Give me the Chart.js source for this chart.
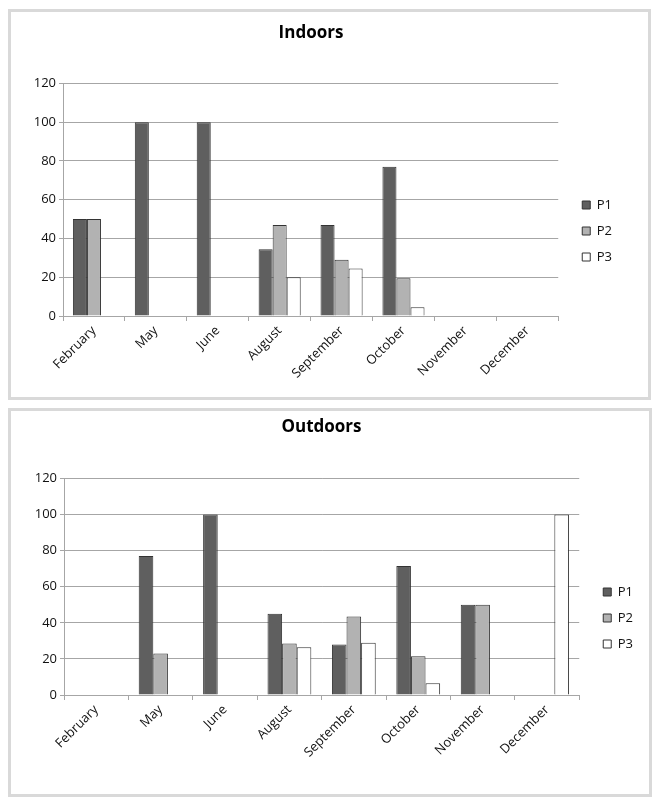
<!DOCTYPE html>
<html>
<head>
<meta charset="utf-8">
<script src="https://cdn.jsdelivr.net/npm/chart.js@4.4.0/dist/chart.umd.min.js"></script>
<style>
body{margin:0;background:#fff;width:661px;height:808px;position:relative;overflow:hidden}
.panel{position:absolute;border:3px solid #d9d9d9;box-sizing:border-box;background:#fff}
canvas{display:block}
</style>
</head>
<body>
<div class="panel" style="left:8px;top:9px;width:643px;height:391px"><canvas id="indoors" width="637" height="385"></canvas></div>
<div class="panel" style="left:8px;top:408px;width:644px;height:389px"><canvas id="outdoors" width="638" height="383"></canvas></div>
<script>
// ===== DATA =====
const months = ["February","May","June","August","September","October","November","December"];
const seriesNames = ["P1","P2","P3"];
const yTicks = [0,20,40,60,80,100,120];

const indoorsP1 = [50,100,100,34.5,47,77,null,null];
const indoorsP2 = [50,null,null,47,29,19.5,null,null];
const indoorsP3 = [null,null,null,20,24.5,4.5,null,null];

const outdoorsP1 = [null,77,100,45,28,71.5,50,null];
const outdoorsP2 = [null,23,null,28.5,43.5,21.5,50,null];
const outdoorsP3 = [null,null,null,26.5,29,6.5,null,100];

// ===== STYLE =====
const FONT = "'Open Sans', sans-serif";
const fills = ["#5f5f5f","#b2b2b2","#ffffff"];
const gridColor = "#a6a6a6";

// move legend next to plot, centered where excel puts it
const legendSpot = {
  id: "legendSpot",
  afterLayout(chart, args, opts){
    const lg = chart.legend;
    if(!lg) return;
    const dx = chart.chartArea.right + opts.gap - lg.left;
    lg.left += dx; lg.right += dx;
    const dy = opts.middle - (lg.top + lg.bottom)/2;
    lg.top += dy; lg.bottom += dy;
  }
};

function makeChart(id, title, series, cfg){
  const ctx = document.getElementById(id).getContext("2d");
  return new Chart(ctx, {
    type: "bar",
    data: {
      labels: months,
      datasets: series.map((data,i)=>({
        label: seriesNames[i],
        data,
        backgroundColor: fills[i],
        borderColor: "#333",
        borderWidth: 1,
        categoryPercentage: 0.68,
        barPercentage: 1
      }))
    },
    options: {
      responsive: false,
      animation: false,
      layout: {padding: {left: 0, right: cfg.padRight, top: 0, bottom: 0}},
      plugins: {
        title: {
          display: true,
          text: title,
          color: "#000",
          font: {family: FONT, size: 17, weight: "bold"},
          padding: {top: cfg.titleTop, bottom: cfg.titleBottom}
        },
        legend: {
          position: "right",
          labels: {
            boxWidth: 8, boxHeight: 8, padding: 13,
            color: "#111",
            font: {family: FONT, size: 13}
          }
        },
        tooltip: {enabled: false},
        legendSpot: {gap: 11, middle: cfg.legendMid}
      },
      scales: {
        x: {
          grid: {drawOnChartArea: false, tickLength: 5, color: gridColor},
          border: {color: gridColor},
          ticks: {minRotation: 45, maxRotation: 45, padding: 2, color: "#111", font: {family: FONT, size: 13}},
          afterFit: s => { s.height = cfg.xHeight; }
        },
        y: {
          min: 0, max: 120,
          grid: {color: gridColor, tickLength: 4},
          border: {color: gridColor},
          ticks: {padding: 3, color: "#111", font: {family: FONT, size: 13}},
          afterBuildTicks: s => { s.ticks = yTicks.map(v=>({value: v})); },
          afterFit: s => { s.width = cfg.yWidth; }
        }
      }
    },
    plugins: [legendSpot]
  });
}

makeChart("indoors", "Indoors", [indoorsP1, indoorsP2, indoorsP3],
  {padRight: 37, titleTop: 11, titleBottom: 40, xHeight: 81, yWidth: 52, legendMid: 219});

makeChart("outdoors", "Outdoors", [outdoorsP1, outdoorsP2, outdoorsP3],
  {padRight: 17, titleTop: 6, titleBottom: 41, xHeight: 99, yWidth: 53, legendMid: 207});
</script>
</body>
</html>
